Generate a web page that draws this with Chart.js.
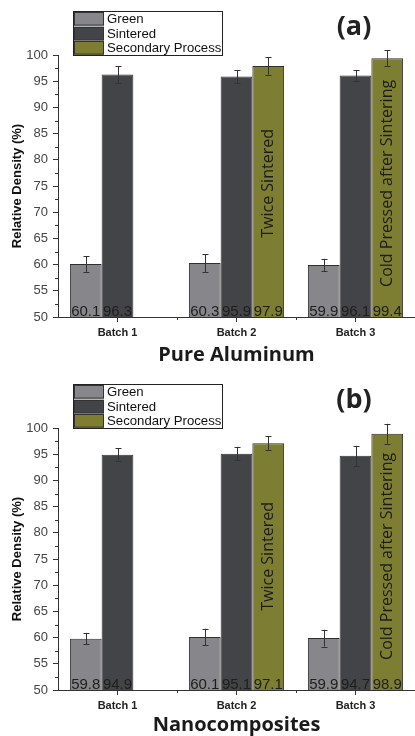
<!DOCTYPE html>
<html><head><meta charset="utf-8">
<script src="https://cdn.jsdelivr.net/npm/chart.js@4/dist/chart.umd.min.js"></script>
<style>
html,body{margin:0;padding:0;background:#fff;width:415px;height:736px;overflow:hidden}
.wrap{position:absolute;left:0;width:415px}
</style></head><body>
<div class="wrap" style="top:0;height:373px"><canvas id="ca"></canvas></div>
<div class="wrap" style="top:373px;height:363px"><canvas id="cb"></canvas></div>
<script>
// ---- data ----
const categories = ['Batch 1', 'Batch 2', 'Batch 3'];
const seriesNames = ['Green', 'Sintered', 'Secondary Process'];
const secondaryNotes = ['', 'Twice Sintered', 'Cold Pressed after Sintering'];
const yMin = 50, yMax = 100, yStep = 5;

const alGreen = [60.1, 60.3, 59.9];
const alGreenErr = [1.5, 1.7, 1.2];
const alSintered = [96.3, 95.9, 96.1];
const alSinteredErr = [1.6, 1.25, 1.05];
const alSecondary = [null, 97.9, 99.4];
const alSecondaryErr = [null, 1.65, 1.5];

const ncGreen = [59.8, 60.1, 59.9];
const ncGreenErr = [1.1, 1.6, 1.6];
const ncSintered = [94.9, 95.1, 94.7];
const ncSinteredErr = [1.25, 1.3, 1.9];
const ncSecondary = [null, 97.1, 98.9];
const ncSecondaryErr = [null, 1.3, 1.9];

// ---- styles ----
const colors = ['#87878b', '#434447', '#7e7e33'];
const SANS = '"Liberation Sans", Arial, sans-serif';
const OPEN = '"Open Sans", sans-serif';

const decorPlugin = {
  id: 'decor',
  afterDatasetsDraw(chart, args, opts) {
    const ctx = chart.ctx;
    const ys = chart.scales.y, xs = chart.scales.x;
    const area = chart.chartArea;
    ctx.save();
    // minor ticks
    ctx.strokeStyle = '#333'; ctx.lineWidth = 1;
    ctx.beginPath();
    for (let v = yMin + yStep / 2; v < yMax; v += yStep) {
      const y = Math.round(ys.getPixelForValue(v)) + 0.5;
      ctx.moveTo(area.left - 3, y); ctx.lineTo(area.left, y);
    }
    for (let i = 0; i < categories.length - 1; i++) {
      const x = Math.round((xs.getPixelForValue(i) + xs.getPixelForValue(i + 1)) / 2) + 0.5;
      ctx.moveTo(x, area.bottom); ctx.lineTo(x, area.bottom + 3);
    }
    ctx.stroke();
    // error bars, value labels, notes
    chart.data.datasets.forEach((ds, di) => {
      const meta = chart.getDatasetMeta(di);
      meta.data.forEach((el, i) => {
        const v = ds.data[i];
        if (v === null || v === undefined) return;
        const e = ds.errors[i];
        const x = Math.round(el.x) + 0.5;
        const yt = ys.getPixelForValue(v + e), yb = ys.getPixelForValue(v - e);
        ctx.strokeStyle = '#333'; ctx.lineWidth = 1;
        ctx.beginPath();
        ctx.moveTo(x, yt); ctx.lineTo(x, yb);
        ctx.moveTo(x - 3, Math.round(yt) + 0.5); ctx.lineTo(x + 3, Math.round(yt) + 0.5);
        ctx.moveTo(x - 3, Math.round(yb) + 0.5); ctx.lineTo(x + 3, Math.round(yb) + 0.5);
        ctx.stroke();
        ctx.fillStyle = '#1e1e1e';
        ctx.font = '15px ' + SANS;
        ctx.textAlign = 'center'; ctx.textBaseline = 'alphabetic';
        ctx.fillText(v.toFixed(1), el.x, area.bottom - 1);
        if (di === 2 && secondaryNotes[i]) {
          ctx.save();
          ctx.translate(el.x, ys.getPixelForValue(opts.noteCenter));
          ctx.rotate(-Math.PI / 2);
          ctx.font = '16px ' + OPEN;
          ctx.textAlign = 'center'; ctx.textBaseline = 'middle';
          ctx.fillStyle = '#1c1c1c';
          ctx.fillText(secondaryNotes[i], 0, 0);
          ctx.restore();
        }
      });
    });
    // legend
    const lx = 73, ly = 11, lw = 149, rh = 14.6;
    ctx.fillStyle = '#fff';
    ctx.fillRect(lx, ly, lw, rh * 3);
    chart.data.datasets.forEach((ds, di) => {
      const y = ly + di * rh;
      ctx.fillStyle = ds.backgroundColor;
      ctx.fillRect(lx + 1, y + 1, 30, rh - 1);
      ctx.strokeStyle = '#333';
      ctx.strokeRect(lx + 1.5, Math.round(y) + 1.5, 29, rh - 2);
      ctx.fillStyle = '#111';
      ctx.font = '13.2px ' + SANS;
      ctx.textAlign = 'left'; ctx.textBaseline = 'middle';
      ctx.fillText(ds.label, lx + 34, y + rh / 2 + 1);
    });
    ctx.strokeStyle = '#222';
    ctx.strokeRect(lx + 0.5, ly + 0.5, lw, Math.round(rh * 3));
    // panel label
    ctx.fillStyle = '#222';
    ctx.font = 'bold 27px ' + OPEN;
    ctx.textAlign = 'center'; ctx.textBaseline = 'middle';
    ctx.fillText(opts.panel, 354, 27);
    ctx.restore();
  }
};

function makeChart(id, vals, errs, panel, xTitle, xScaleH, padBottom) {
  return new Chart(document.getElementById(id), {
    type: 'bar',
    data: {
      labels: categories,
      datasets: seriesNames.map((n, k) => ({
        label: n, data: vals[k], errors: errs[k],
        backgroundColor: colors[k], borderColor: '#2f2f2f', borderWidth: 1,
        categoryPercentage: 0.8, barPercentage: 1.0
      }))
    },
    options: {
      responsive: true, maintainAspectRatio: false, animation: false,
      devicePixelRatio: 1,
      layout: { padding: { top: 55, left: 0, right: 0, bottom: padBottom } },
      plugins: {
        legend: { display: false }, tooltip: { enabled: false },
        decor: { panel: panel, noteCenter: 75.5 }
      },
      scales: {
        x: {
          offset: true,
          grid: { offset: false, drawOnChartArea: false, tickLength: 5, color: '#333' },
          border: { color: '#333' },
          ticks: { font: { family: SANS, size: 11, weight: 'bold' }, color: '#222', padding: 4 },
          title: { display: true, text: xTitle, color: '#1a1a1a',
                   font: { family: OPEN, size: 20, weight: 'bold', lineHeight: 1 },
                   padding: { top: 0, bottom: 0 } },
          afterFit: s => { s.height = xScaleH; }
        },
        y: {
          min: yMin, max: yMax,
          ticks: { stepSize: yStep, font: { family: SANS, size: 13 }, color: '#444', padding: 5 },
          grid: { drawOnChartArea: false, tickLength: 5, color: '#333' },
          border: { color: '#333' },
          title: { display: true, text: 'Relative Density (%)', color: '#111',
                   font: { family: SANS, size: 13, weight: 'bold' },
                   padding: { top: 10, bottom: 0 } },
          afterFit: s => { s.width = 58; }
        }
      }
    },
    plugins: [decorPlugin]
  });
}

makeChart('ca', [alGreen, alSintered, alSecondary], [alGreenErr, alSinteredErr, alSecondaryErr],
  '(a)', 'Pure Aluminum', 48, 8);
makeChart('cb', [ncGreen, ncSintered, ncSecondary], [ncGreenErr, ncSinteredErr, ncSecondaryErr],
  '(b)', 'Nanocomposites', 45, 1);
</script>
</body></html>
